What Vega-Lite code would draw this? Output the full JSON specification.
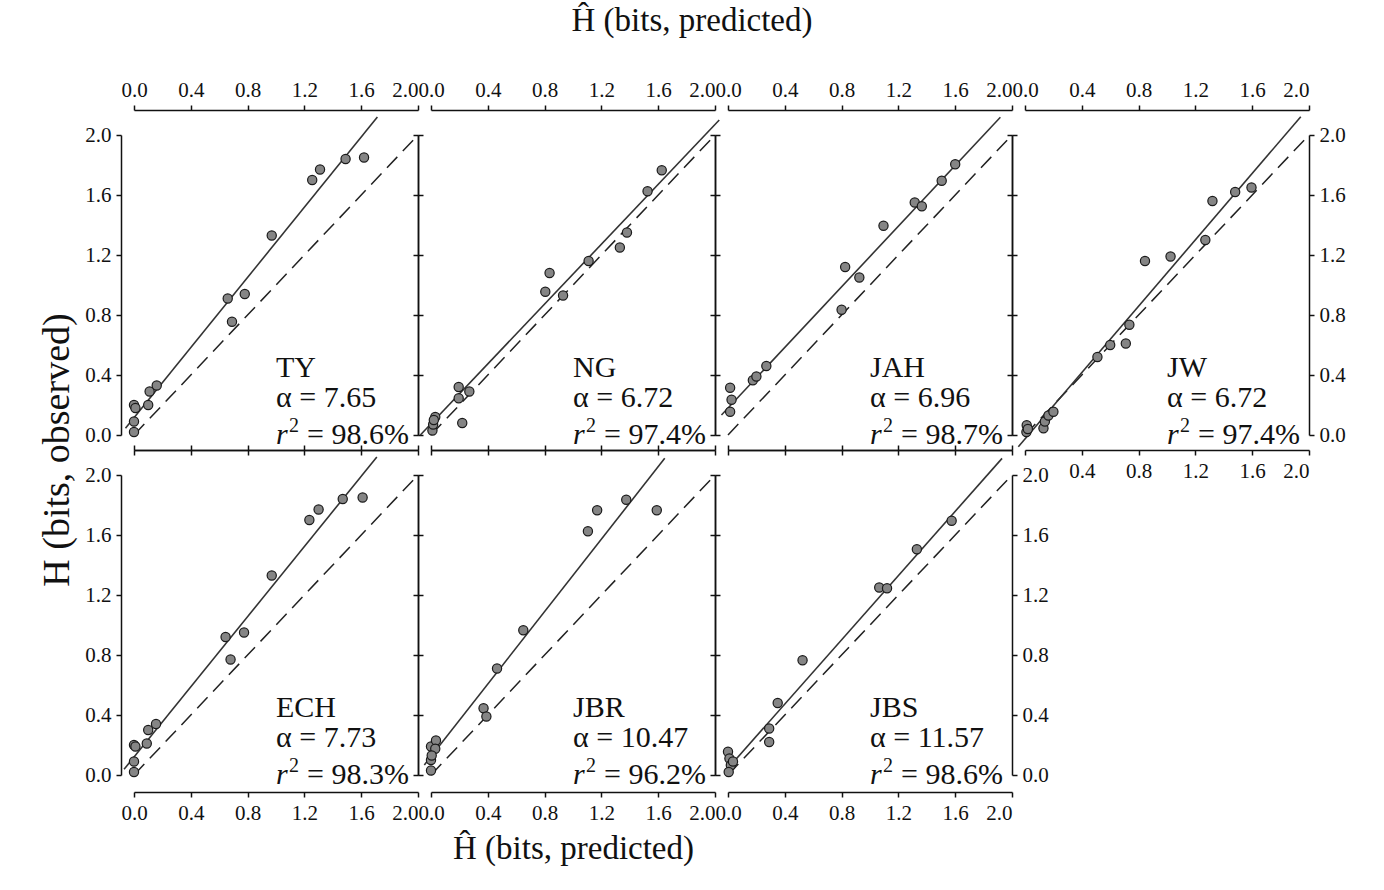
{
  "$schema": "https://vega.github.io/schema/vega-lite/v6.json",
  "padding": {"left": 38, "top": 5, "right": 5, "bottom": 5},
  "title": {"text": "Ĥ (bits, predicted)", "anchor": "middle", "offset": 41, "fontSize": 33},
  "config": {
    "view": {"stroke": null},
    "font": "Liberation Serif",
    "axis": {"domainColor": "#111", "domainWidth": 1.5, "tickColor": "#111", "tickWidth": 1.5, "tickSize": 5, "labelFont": "Liberation Serif", "labelFontSize": 21, "labelColor": "#111", "grid": false, "labelFlush": false, "labelOverlap": false, "labelPadding": 5, "titleFont": "Liberation Serif", "titleFontSize": 33, "titleFontWeight": "normal", "titleColor": "#111"},
    "title": {"font": "Liberation Serif", "fontSize": 33, "fontWeight": "normal", "color": "#111"}
  },
  "datasets": {
    "diag": [{"x": 0, "y": 0}, {"x": 2, "y": 2}],
    "fits": [
      {"p": "TY", "x": -0.06, "y": 0.045}, {"p": "TY", "x": 1.714, "y": 2.12},
      {"p": "NG", "x": -0.075, "y": 0.0}, {"p": "NG", "x": 2.03, "y": 2.1},
      {"p": "JAH", "x": -0.046, "y": 0.133}, {"p": "JAH", "x": 1.918, "y": 2.118},
      {"p": "JW", "x": -0.047, "y": -0.078}, {"p": "JW", "x": 1.942, "y": 2.122},
      {"p": "ECH", "x": -0.07, "y": 0.038}, {"p": "ECH", "x": 1.71, "y": 2.12},
      {"p": "JBR", "x": -0.047, "y": 0.067}, {"p": "JBR", "x": 1.646, "y": 2.111},
      {"p": "JBS", "x": -0.011, "y": 0.033}, {"p": "JBS", "x": 1.93, "y": 2.111}
    ],
    "pts": [
      {"p": "TY", "x": 0.0, "y": 0.02}, {"p": "TY", "x": 0.0, "y": 0.09}, {"p": "TY", "x": 0.0, "y": 0.2}, {"p": "TY", "x": 0.01, "y": 0.18}, {"p": "TY", "x": 0.1, "y": 0.2}, {"p": "TY", "x": 0.11, "y": 0.29}, {"p": "TY", "x": 0.16, "y": 0.33}, {"p": "TY", "x": 0.66, "y": 0.91}, {"p": "TY", "x": 0.69, "y": 0.755}, {"p": "TY", "x": 0.78, "y": 0.94}, {"p": "TY", "x": 0.97, "y": 1.33}, {"p": "TY", "x": 1.255, "y": 1.7}, {"p": "TY", "x": 1.31, "y": 1.77}, {"p": "TY", "x": 1.49, "y": 1.84}, {"p": "TY", "x": 1.62, "y": 1.85},
      {"p": "NG", "x": 0.01, "y": 0.03}, {"p": "NG", "x": 0.015, "y": 0.07}, {"p": "NG", "x": 0.03, "y": 0.12}, {"p": "NG", "x": 0.02, "y": 0.1}, {"p": "NG", "x": 0.195, "y": 0.32}, {"p": "NG", "x": 0.195, "y": 0.245}, {"p": "NG", "x": 0.27, "y": 0.29}, {"p": "NG", "x": 0.22, "y": 0.08}, {"p": "NG", "x": 0.805, "y": 0.955}, {"p": "NG", "x": 0.835, "y": 1.08}, {"p": "NG", "x": 0.93, "y": 0.93}, {"p": "NG", "x": 1.11, "y": 1.16}, {"p": "NG", "x": 1.33, "y": 1.25}, {"p": "NG", "x": 1.38, "y": 1.35}, {"p": "NG", "x": 1.525, "y": 1.625}, {"p": "NG", "x": 1.625, "y": 1.765},
      {"p": "JAH", "x": 0.015, "y": 0.315}, {"p": "JAH", "x": 0.025, "y": 0.235}, {"p": "JAH", "x": 0.015, "y": 0.155}, {"p": "JAH", "x": 0.175, "y": 0.365}, {"p": "JAH", "x": 0.2, "y": 0.39}, {"p": "JAH", "x": 0.27, "y": 0.46}, {"p": "JAH", "x": 0.8, "y": 0.835}, {"p": "JAH", "x": 0.825, "y": 1.12}, {"p": "JAH", "x": 0.925, "y": 1.05}, {"p": "JAH", "x": 1.095, "y": 1.395}, {"p": "JAH", "x": 1.315, "y": 1.55}, {"p": "JAH", "x": 1.365, "y": 1.525}, {"p": "JAH", "x": 1.505, "y": 1.695}, {"p": "JAH", "x": 1.6, "y": 1.805},
      {"p": "JW", "x": 0.01, "y": 0.02}, {"p": "JW", "x": 0.012, "y": 0.065}, {"p": "JW", "x": 0.02, "y": 0.04}, {"p": "JW", "x": 0.13, "y": 0.045}, {"p": "JW", "x": 0.14, "y": 0.09}, {"p": "JW", "x": 0.165, "y": 0.13}, {"p": "JW", "x": 0.2, "y": 0.155}, {"p": "JW", "x": 0.51, "y": 0.52}, {"p": "JW", "x": 0.6, "y": 0.6}, {"p": "JW", "x": 0.71, "y": 0.61}, {"p": "JW", "x": 0.735, "y": 0.735}, {"p": "JW", "x": 0.845, "y": 1.16}, {"p": "JW", "x": 1.025, "y": 1.19}, {"p": "JW", "x": 1.27, "y": 1.3}, {"p": "JW", "x": 1.32, "y": 1.56}, {"p": "JW", "x": 1.48, "y": 1.62}, {"p": "JW", "x": 1.595, "y": 1.65},
      {"p": "ECH", "x": 0.0, "y": 0.02}, {"p": "ECH", "x": 0.0, "y": 0.09}, {"p": "ECH", "x": 0.0, "y": 0.2}, {"p": "ECH", "x": 0.01, "y": 0.19}, {"p": "ECH", "x": 0.09, "y": 0.21}, {"p": "ECH", "x": 0.1, "y": 0.3}, {"p": "ECH", "x": 0.155, "y": 0.34}, {"p": "ECH", "x": 0.645, "y": 0.92}, {"p": "ECH", "x": 0.68, "y": 0.77}, {"p": "ECH", "x": 0.775, "y": 0.95}, {"p": "ECH", "x": 0.97, "y": 1.33}, {"p": "ECH", "x": 1.235, "y": 1.7}, {"p": "ECH", "x": 1.3, "y": 1.77}, {"p": "ECH", "x": 1.47, "y": 1.84}, {"p": "ECH", "x": 1.61, "y": 1.85},
      {"p": "JBR", "x": 0.0, "y": 0.03}, {"p": "JBR", "x": 0.0, "y": 0.1}, {"p": "JBR", "x": 0.0, "y": 0.19}, {"p": "JBR", "x": 0.035, "y": 0.23}, {"p": "JBR", "x": 0.03, "y": 0.175}, {"p": "JBR", "x": 0.005, "y": 0.13}, {"p": "JBR", "x": 0.37, "y": 0.445}, {"p": "JBR", "x": 0.39, "y": 0.39}, {"p": "JBR", "x": 0.465, "y": 0.71}, {"p": "JBR", "x": 0.65, "y": 0.965}, {"p": "JBR", "x": 1.105, "y": 1.625}, {"p": "JBR", "x": 1.17, "y": 1.765}, {"p": "JBR", "x": 1.375, "y": 1.835}, {"p": "JBR", "x": 1.59, "y": 1.765},
      {"p": "JBS", "x": 0.0, "y": 0.155}, {"p": "JBS", "x": 0.01, "y": 0.11}, {"p": "JBS", "x": 0.02, "y": 0.065}, {"p": "JBS", "x": 0.005, "y": 0.02}, {"p": "JBS", "x": 0.035, "y": 0.09}, {"p": "JBS", "x": 0.29, "y": 0.31}, {"p": "JBS", "x": 0.29, "y": 0.22}, {"p": "JBS", "x": 0.35, "y": 0.48}, {"p": "JBS", "x": 0.525, "y": 0.765}, {"p": "JBS", "x": 1.065, "y": 1.25}, {"p": "JBS", "x": 1.12, "y": 1.245}, {"p": "JBS", "x": 1.33, "y": 1.505}, {"p": "JBS", "x": 1.575, "y": 1.695}
    ],
    "info": [
      {"p": "TY", "name": "TY", "alpha": "α = 7.65", "r2": "= 98.6%"},
      {"p": "NG", "name": "NG", "alpha": "α = 6.72", "r2": "= 97.4%"},
      {"p": "JAH", "name": "JAH", "alpha": "α = 6.96", "r2": "= 98.7%"},
      {"p": "JW", "name": "JW", "alpha": "α = 6.72", "r2": "= 97.4%"},
      {"p": "ECH", "name": "ECH", "alpha": "α = 7.73", "r2": "= 98.3%"},
      {"p": "JBR", "name": "JBR", "alpha": "α = 10.47", "r2": "= 96.2%"},
      {"p": "JBS", "name": "JBS", "alpha": "α = 11.57", "r2": "= 98.6%"}
    ]
  },
  "vconcat": [
    {
      "title": {"text": "H (bits, observed)", "orient": "left", "anchor": "middle", "offset": 8, "fontSize": 38, "dx": 22},
      "columns": 4,
      "bounds": "flush",
      "spacing": {"row": 40, "column": 13},
      "concat": [
        {
          "width": 284, "height": 300,
          "resolve": {"axis": {"x": "independent", "y": "independent"}},
          "layer": [
            {"data": {"name": "diag"}, "mark": {"type": "line", "color": "#222", "strokeWidth": 1.5, "strokeDash": [15, 8], "clip": false},
             "encoding": {
               "x": {"field": "x", "type": "quantitative", "scale": {"domain": [0, 2]}, "axis": {"orient": "top", "offset": 25, "values": [0, 0.4, 0.8, 1.2, 1.6, 2], "format": ".1f", "title": null, "labelAlign": {"condition": {"test": "datum.value >= 1.99", "value": "right"}, "value": "center"}}},
               "y": {"field": "y", "type": "quantitative", "scale": {"domain": [0, 2]}, "axis": {"orient": "left", "offset": 13, "values": [0, 0.4, 0.8, 1.2, 1.6, 2], "format": ".1f", "title": null}}}},
            {"data": {"name": "fits"}, "transform": [{"filter": "datum.p === 'TY'"}], "mark": {"type": "line", "color": "#333", "strokeWidth": 1.6, "clip": false},
             "encoding": {
               "x": {"field": "x", "type": "quantitative", "scale": {"domain": [0, 2]}, "axis": {"orient": "bottom", "offset": 15, "values": [0, 0.4, 0.8, 1.2, 1.6, 2], "labels": false, "title": null}},
               "y": {"field": "y", "type": "quantitative", "scale": {"domain": [0, 2]}, "axis": {"orient": "right", "offset": 0, "values": [0, 0.4, 0.8, 1.2, 1.6, 2], "labels": false, "title": null}}}},
            {"data": {"name": "pts"}, "transform": [{"filter": "datum.p === 'TY'"}], "mark": {"type": "point", "filled": true, "size": 85, "fill": "#858585", "stroke": "#1a1a1a", "strokeWidth": 1.2, "opacity": 1, "clip": false},
             "encoding": {"x": {"field": "x", "type": "quantitative", "scale": {"domain": [0, 2]}, "axis": null}, "y": {"field": "y", "type": "quantitative", "scale": {"domain": [0, 2]}, "axis": null}}},
            {"data": {"name": "info"}, "transform": [{"filter": "datum.p === 'TY'"}], "mark": {"type": "text", "fontSize": 30, "align": "left", "baseline": "alphabetic", "color": "#111"},
             "encoding": {"x": {"datum": 1, "type": "quantitative", "scale": {"domain": [0, 2]}, "axis": null}, "y": {"datum": 0.385, "type": "quantitative", "scale": {"domain": [0, 2]}, "axis": null}, "text": {"field": "name"}}},
            {"data": {"name": "info"}, "transform": [{"filter": "datum.p === 'TY'"}], "mark": {"type": "text", "fontSize": 30, "align": "left", "baseline": "alphabetic", "color": "#111"},
             "encoding": {"x": {"datum": 1, "type": "quantitative", "scale": {"domain": [0, 2]}, "axis": null}, "y": {"datum": 0.185, "type": "quantitative", "scale": {"domain": [0, 2]}, "axis": null}, "text": {"field": "alpha"}}},
            {"data": {"name": "info"}, "transform": [{"filter": "datum.p === 'TY'"}], "mark": {"type": "text", "fontSize": 30, "fontStyle": "italic", "align": "left", "baseline": "alphabetic", "color": "#111"},
             "encoding": {"x": {"datum": 1, "type": "quantitative", "scale": {"domain": [0, 2]}, "axis": null}, "y": {"datum": -0.06, "type": "quantitative", "scale": {"domain": [0, 2]}, "axis": null}, "text": {"value": "r"}}},
            {"data": {"name": "info"}, "transform": [{"filter": "datum.p === 'TY'"}], "mark": {"type": "text", "fontSize": 20, "align": "left", "baseline": "alphabetic", "dx": 13, "dy": -12, "color": "#111"},
             "encoding": {"x": {"datum": 1, "type": "quantitative", "scale": {"domain": [0, 2]}, "axis": null}, "y": {"datum": -0.06, "type": "quantitative", "scale": {"domain": [0, 2]}, "axis": null}, "text": {"value": "2"}}},
            {"data": {"name": "info"}, "transform": [{"filter": "datum.p === 'TY'"}], "mark": {"type": "text", "fontSize": 30, "align": "left", "baseline": "alphabetic", "dx": 31, "color": "#111"},
             "encoding": {"x": {"datum": 1, "type": "quantitative", "scale": {"domain": [0, 2]}, "axis": null}, "y": {"datum": -0.06, "type": "quantitative", "scale": {"domain": [0, 2]}, "axis": null}, "text": {"field": "r2"}}}
          ]
        },
        {
          "width": 284, "height": 300,
          "resolve": {"axis": {"x": "independent", "y": "independent"}},
          "layer": [
            {"data": {"name": "diag"}, "mark": {"type": "line", "color": "#222", "strokeWidth": 1.5, "strokeDash": [15, 8], "clip": false},
             "encoding": {
               "x": {"field": "x", "type": "quantitative", "scale": {"domain": [0, 2]}, "axis": {"orient": "top", "offset": 25, "values": [0, 0.4, 0.8, 1.2, 1.6, 2], "format": ".1f", "title": null, "labelAlign": {"condition": {"test": "datum.value >= 1.99", "value": "right"}, "value": "center"}}},
               "y": {"field": "y", "type": "quantitative", "scale": {"domain": [0, 2]}, "axis": {"orient": "left", "offset": 13, "values": [0, 0.4, 0.8, 1.2, 1.6, 2], "labels": false, "title": null}}}},
            {"data": {"name": "fits"}, "transform": [{"filter": "datum.p === 'NG'"}], "mark": {"type": "line", "color": "#333", "strokeWidth": 1.6, "clip": false},
             "encoding": {
               "x": {"field": "x", "type": "quantitative", "scale": {"domain": [0, 2]}, "axis": {"orient": "bottom", "offset": 15, "values": [0, 0.4, 0.8, 1.2, 1.6, 2], "labels": false, "title": null}},
               "y": {"field": "y", "type": "quantitative", "scale": {"domain": [0, 2]}, "axis": {"orient": "right", "offset": 0, "values": [0, 0.4, 0.8, 1.2, 1.6, 2], "labels": false, "title": null}}}},
            {"data": {"name": "pts"}, "transform": [{"filter": "datum.p === 'NG'"}], "mark": {"type": "point", "filled": true, "size": 85, "fill": "#858585", "stroke": "#1a1a1a", "strokeWidth": 1.2, "opacity": 1, "clip": false},
             "encoding": {"x": {"field": "x", "type": "quantitative", "scale": {"domain": [0, 2]}, "axis": null}, "y": {"field": "y", "type": "quantitative", "scale": {"domain": [0, 2]}, "axis": null}}},
            {"data": {"name": "info"}, "transform": [{"filter": "datum.p === 'NG'"}], "mark": {"type": "text", "fontSize": 30, "align": "left", "baseline": "alphabetic", "color": "#111"},
             "encoding": {"x": {"datum": 1, "type": "quantitative", "scale": {"domain": [0, 2]}, "axis": null}, "y": {"datum": 0.385, "type": "quantitative", "scale": {"domain": [0, 2]}, "axis": null}, "text": {"field": "name"}}},
            {"data": {"name": "info"}, "transform": [{"filter": "datum.p === 'NG'"}], "mark": {"type": "text", "fontSize": 30, "align": "left", "baseline": "alphabetic", "color": "#111"},
             "encoding": {"x": {"datum": 1, "type": "quantitative", "scale": {"domain": [0, 2]}, "axis": null}, "y": {"datum": 0.185, "type": "quantitative", "scale": {"domain": [0, 2]}, "axis": null}, "text": {"field": "alpha"}}},
            {"data": {"name": "info"}, "transform": [{"filter": "datum.p === 'NG'"}], "mark": {"type": "text", "fontSize": 30, "fontStyle": "italic", "align": "left", "baseline": "alphabetic", "color": "#111"},
             "encoding": {"x": {"datum": 1, "type": "quantitative", "scale": {"domain": [0, 2]}, "axis": null}, "y": {"datum": -0.06, "type": "quantitative", "scale": {"domain": [0, 2]}, "axis": null}, "text": {"value": "r"}}},
            {"data": {"name": "info"}, "transform": [{"filter": "datum.p === 'NG'"}], "mark": {"type": "text", "fontSize": 20, "align": "left", "baseline": "alphabetic", "dx": 13, "dy": -12, "color": "#111"},
             "encoding": {"x": {"datum": 1, "type": "quantitative", "scale": {"domain": [0, 2]}, "axis": null}, "y": {"datum": -0.06, "type": "quantitative", "scale": {"domain": [0, 2]}, "axis": null}, "text": {"value": "2"}}},
            {"data": {"name": "info"}, "transform": [{"filter": "datum.p === 'NG'"}], "mark": {"type": "text", "fontSize": 30, "align": "left", "baseline": "alphabetic", "dx": 31, "color": "#111"},
             "encoding": {"x": {"datum": 1, "type": "quantitative", "scale": {"domain": [0, 2]}, "axis": null}, "y": {"datum": -0.06, "type": "quantitative", "scale": {"domain": [0, 2]}, "axis": null}, "text": {"field": "r2"}}}
          ]
        },
        {
          "width": 284, "height": 300,
          "resolve": {"axis": {"x": "independent", "y": "independent"}},
          "layer": [
            {"data": {"name": "diag"}, "mark": {"type": "line", "color": "#222", "strokeWidth": 1.5, "strokeDash": [15, 8], "clip": false},
             "encoding": {
               "x": {"field": "x", "type": "quantitative", "scale": {"domain": [0, 2]}, "axis": {"orient": "top", "offset": 25, "values": [0, 0.4, 0.8, 1.2, 1.6, 2], "format": ".1f", "title": null, "labelAlign": {"condition": {"test": "datum.value >= 1.99", "value": "right"}, "value": "center"}}},
               "y": {"field": "y", "type": "quantitative", "scale": {"domain": [0, 2]}, "axis": {"orient": "left", "offset": 13, "values": [0, 0.4, 0.8, 1.2, 1.6, 2], "labels": false, "title": null}}}},
            {"data": {"name": "fits"}, "transform": [{"filter": "datum.p === 'JAH'"}], "mark": {"type": "line", "color": "#333", "strokeWidth": 1.6, "clip": false},
             "encoding": {
               "x": {"field": "x", "type": "quantitative", "scale": {"domain": [0, 2]}, "axis": {"orient": "bottom", "offset": 15, "values": [0, 0.4, 0.8, 1.2, 1.6, 2], "labels": false, "title": null}},
               "y": {"field": "y", "type": "quantitative", "scale": {"domain": [0, 2]}, "axis": {"orient": "right", "offset": 0, "values": [0, 0.4, 0.8, 1.2, 1.6, 2], "labels": false, "title": null}}}},
            {"data": {"name": "pts"}, "transform": [{"filter": "datum.p === 'JAH'"}], "mark": {"type": "point", "filled": true, "size": 85, "fill": "#858585", "stroke": "#1a1a1a", "strokeWidth": 1.2, "opacity": 1, "clip": false},
             "encoding": {"x": {"field": "x", "type": "quantitative", "scale": {"domain": [0, 2]}, "axis": null}, "y": {"field": "y", "type": "quantitative", "scale": {"domain": [0, 2]}, "axis": null}}},
            {"data": {"name": "info"}, "transform": [{"filter": "datum.p === 'JAH'"}], "mark": {"type": "text", "fontSize": 30, "align": "left", "baseline": "alphabetic", "color": "#111"},
             "encoding": {"x": {"datum": 1, "type": "quantitative", "scale": {"domain": [0, 2]}, "axis": null}, "y": {"datum": 0.385, "type": "quantitative", "scale": {"domain": [0, 2]}, "axis": null}, "text": {"field": "name"}}},
            {"data": {"name": "info"}, "transform": [{"filter": "datum.p === 'JAH'"}], "mark": {"type": "text", "fontSize": 30, "align": "left", "baseline": "alphabetic", "color": "#111"},
             "encoding": {"x": {"datum": 1, "type": "quantitative", "scale": {"domain": [0, 2]}, "axis": null}, "y": {"datum": 0.185, "type": "quantitative", "scale": {"domain": [0, 2]}, "axis": null}, "text": {"field": "alpha"}}},
            {"data": {"name": "info"}, "transform": [{"filter": "datum.p === 'JAH'"}], "mark": {"type": "text", "fontSize": 30, "fontStyle": "italic", "align": "left", "baseline": "alphabetic", "color": "#111"},
             "encoding": {"x": {"datum": 1, "type": "quantitative", "scale": {"domain": [0, 2]}, "axis": null}, "y": {"datum": -0.06, "type": "quantitative", "scale": {"domain": [0, 2]}, "axis": null}, "text": {"value": "r"}}},
            {"data": {"name": "info"}, "transform": [{"filter": "datum.p === 'JAH'"}], "mark": {"type": "text", "fontSize": 20, "align": "left", "baseline": "alphabetic", "dx": 13, "dy": -12, "color": "#111"},
             "encoding": {"x": {"datum": 1, "type": "quantitative", "scale": {"domain": [0, 2]}, "axis": null}, "y": {"datum": -0.06, "type": "quantitative", "scale": {"domain": [0, 2]}, "axis": null}, "text": {"value": "2"}}},
            {"data": {"name": "info"}, "transform": [{"filter": "datum.p === 'JAH'"}], "mark": {"type": "text", "fontSize": 30, "align": "left", "baseline": "alphabetic", "dx": 31, "color": "#111"},
             "encoding": {"x": {"datum": 1, "type": "quantitative", "scale": {"domain": [0, 2]}, "axis": null}, "y": {"datum": -0.06, "type": "quantitative", "scale": {"domain": [0, 2]}, "axis": null}, "text": {"field": "r2"}}}
          ]
        },
        {
          "width": 284, "height": 300,
          "resolve": {"axis": {"x": "independent", "y": "independent"}},
          "layer": [
            {"data": {"name": "diag"}, "mark": {"type": "line", "color": "#222", "strokeWidth": 1.5, "strokeDash": [15, 8], "clip": false},
             "encoding": {
               "x": {"field": "x", "type": "quantitative", "scale": {"domain": [0, 2]}, "axis": {"orient": "top", "offset": 25, "values": [0, 0.4, 0.8, 1.2, 1.6, 2], "format": ".1f", "title": null, "labelAlign": {"condition": {"test": "datum.value >= 1.99", "value": "right"}, "value": "center"}}},
               "y": {"field": "y", "type": "quantitative", "scale": {"domain": [0, 2]}, "axis": {"orient": "left", "offset": 13, "values": [0, 0.4, 0.8, 1.2, 1.6, 2], "labels": false, "title": null}}}},
            {"data": {"name": "fits"}, "transform": [{"filter": "datum.p === 'JW'"}], "mark": {"type": "line", "color": "#333", "strokeWidth": 1.6, "clip": false},
             "encoding": {
               "x": {"field": "x", "type": "quantitative", "scale": {"domain": [0, 2]}, "axis": {"orient": "bottom", "offset": 15, "values": [0, 0.4, 0.8, 1.2, 1.6, 2], "format": ".1f", "labelExpr": "datum.value === 0 ? '' : datum.label", "title": null, "labelAlign": {"condition": {"test": "datum.value >= 1.99", "value": "right"}, "value": "center"}}},
               "y": {"field": "y", "type": "quantitative", "scale": {"domain": [0, 2]}, "axis": {"orient": "right", "offset": 0, "values": [0, 0.4, 0.8, 1.2, 1.6, 2], "format": ".1f", "title": null}}}},
            {"data": {"name": "pts"}, "transform": [{"filter": "datum.p === 'JW'"}], "mark": {"type": "point", "filled": true, "size": 85, "fill": "#858585", "stroke": "#1a1a1a", "strokeWidth": 1.2, "opacity": 1, "clip": false},
             "encoding": {"x": {"field": "x", "type": "quantitative", "scale": {"domain": [0, 2]}, "axis": null}, "y": {"field": "y", "type": "quantitative", "scale": {"domain": [0, 2]}, "axis": null}}},
            {"data": {"name": "info"}, "transform": [{"filter": "datum.p === 'JW'"}], "mark": {"type": "text", "fontSize": 30, "align": "left", "baseline": "alphabetic", "color": "#111"},
             "encoding": {"x": {"datum": 1, "type": "quantitative", "scale": {"domain": [0, 2]}, "axis": null}, "y": {"datum": 0.385, "type": "quantitative", "scale": {"domain": [0, 2]}, "axis": null}, "text": {"field": "name"}}},
            {"data": {"name": "info"}, "transform": [{"filter": "datum.p === 'JW'"}], "mark": {"type": "text", "fontSize": 30, "align": "left", "baseline": "alphabetic", "color": "#111"},
             "encoding": {"x": {"datum": 1, "type": "quantitative", "scale": {"domain": [0, 2]}, "axis": null}, "y": {"datum": 0.185, "type": "quantitative", "scale": {"domain": [0, 2]}, "axis": null}, "text": {"field": "alpha"}}},
            {"data": {"name": "info"}, "transform": [{"filter": "datum.p === 'JW'"}], "mark": {"type": "text", "fontSize": 30, "fontStyle": "italic", "align": "left", "baseline": "alphabetic", "color": "#111"},
             "encoding": {"x": {"datum": 1, "type": "quantitative", "scale": {"domain": [0, 2]}, "axis": null}, "y": {"datum": -0.06, "type": "quantitative", "scale": {"domain": [0, 2]}, "axis": null}, "text": {"value": "r"}}},
            {"data": {"name": "info"}, "transform": [{"filter": "datum.p === 'JW'"}], "mark": {"type": "text", "fontSize": 20, "align": "left", "baseline": "alphabetic", "dx": 13, "dy": -12, "color": "#111"},
             "encoding": {"x": {"datum": 1, "type": "quantitative", "scale": {"domain": [0, 2]}, "axis": null}, "y": {"datum": -0.06, "type": "quantitative", "scale": {"domain": [0, 2]}, "axis": null}, "text": {"value": "2"}}},
            {"data": {"name": "info"}, "transform": [{"filter": "datum.p === 'JW'"}], "mark": {"type": "text", "fontSize": 30, "align": "left", "baseline": "alphabetic", "dx": 31, "color": "#111"},
             "encoding": {"x": {"datum": 1, "type": "quantitative", "scale": {"domain": [0, 2]}, "axis": null}, "y": {"datum": -0.06, "type": "quantitative", "scale": {"domain": [0, 2]}, "axis": null}, "text": {"field": "r2"}}}
          ]
        },
        {
          "width": 284, "height": 300,
          "resolve": {"axis": {"x": "independent", "y": "independent"}},
          "layer": [
            {"data": {"name": "diag"}, "mark": {"type": "line", "color": "#222", "strokeWidth": 1.5, "strokeDash": [15, 8], "clip": false},
             "encoding": {
               "x": {"field": "x", "type": "quantitative", "scale": {"domain": [0, 2]}, "axis": {"orient": "bottom", "offset": 17, "values": [0, 0.4, 0.8, 1.2, 1.6, 2], "format": ".1f", "title": null, "labelAlign": {"condition": {"test": "datum.value >= 1.99", "value": "right"}, "value": "center"}}},
               "y": {"field": "y", "type": "quantitative", "scale": {"domain": [0, 2]}, "axis": {"orient": "left", "offset": 13, "values": [0, 0.4, 0.8, 1.2, 1.6, 2], "format": ".1f", "title": null}}}},
            {"data": {"name": "fits"}, "transform": [{"filter": "datum.p === 'ECH'"}], "mark": {"type": "line", "color": "#333", "strokeWidth": 1.6, "clip": false},
             "encoding": {
               "x": {"field": "x", "type": "quantitative", "scale": {"domain": [0, 2]}, "axis": {"orient": "top", "offset": 25, "values": [0, 0.4, 0.8, 1.2, 1.6, 2], "labels": false, "title": null}},
               "y": {"field": "y", "type": "quantitative", "scale": {"domain": [0, 2]}, "axis": {"orient": "right", "offset": 0, "values": [0, 0.4, 0.8, 1.2, 1.6, 2], "labels": false, "title": null}}}},
            {"data": {"name": "pts"}, "transform": [{"filter": "datum.p === 'ECH'"}], "mark": {"type": "point", "filled": true, "size": 85, "fill": "#858585", "stroke": "#1a1a1a", "strokeWidth": 1.2, "opacity": 1, "clip": false},
             "encoding": {"x": {"field": "x", "type": "quantitative", "scale": {"domain": [0, 2]}, "axis": null}, "y": {"field": "y", "type": "quantitative", "scale": {"domain": [0, 2]}, "axis": null}}},
            {"data": {"name": "info"}, "transform": [{"filter": "datum.p === 'ECH'"}], "mark": {"type": "text", "fontSize": 30, "align": "left", "baseline": "alphabetic", "color": "#111"},
             "encoding": {"x": {"datum": 1, "type": "quantitative", "scale": {"domain": [0, 2]}, "axis": null}, "y": {"datum": 0.385, "type": "quantitative", "scale": {"domain": [0, 2]}, "axis": null}, "text": {"field": "name"}}},
            {"data": {"name": "info"}, "transform": [{"filter": "datum.p === 'ECH'"}], "mark": {"type": "text", "fontSize": 30, "align": "left", "baseline": "alphabetic", "color": "#111"},
             "encoding": {"x": {"datum": 1, "type": "quantitative", "scale": {"domain": [0, 2]}, "axis": null}, "y": {"datum": 0.185, "type": "quantitative", "scale": {"domain": [0, 2]}, "axis": null}, "text": {"field": "alpha"}}},
            {"data": {"name": "info"}, "transform": [{"filter": "datum.p === 'ECH'"}], "mark": {"type": "text", "fontSize": 30, "fontStyle": "italic", "align": "left", "baseline": "alphabetic", "color": "#111"},
             "encoding": {"x": {"datum": 1, "type": "quantitative", "scale": {"domain": [0, 2]}, "axis": null}, "y": {"datum": -0.06, "type": "quantitative", "scale": {"domain": [0, 2]}, "axis": null}, "text": {"value": "r"}}},
            {"data": {"name": "info"}, "transform": [{"filter": "datum.p === 'ECH'"}], "mark": {"type": "text", "fontSize": 20, "align": "left", "baseline": "alphabetic", "dx": 13, "dy": -12, "color": "#111"},
             "encoding": {"x": {"datum": 1, "type": "quantitative", "scale": {"domain": [0, 2]}, "axis": null}, "y": {"datum": -0.06, "type": "quantitative", "scale": {"domain": [0, 2]}, "axis": null}, "text": {"value": "2"}}},
            {"data": {"name": "info"}, "transform": [{"filter": "datum.p === 'ECH'"}], "mark": {"type": "text", "fontSize": 30, "align": "left", "baseline": "alphabetic", "dx": 31, "color": "#111"},
             "encoding": {"x": {"datum": 1, "type": "quantitative", "scale": {"domain": [0, 2]}, "axis": null}, "y": {"datum": -0.06, "type": "quantitative", "scale": {"domain": [0, 2]}, "axis": null}, "text": {"field": "r2"}}}
          ]
        },
        {
          "width": 284, "height": 300,
          "resolve": {"axis": {"x": "independent", "y": "independent"}},
          "layer": [
            {"data": {"name": "diag"}, "mark": {"type": "line", "color": "#222", "strokeWidth": 1.5, "strokeDash": [15, 8], "clip": false},
             "encoding": {
               "x": {"field": "x", "type": "quantitative", "scale": {"domain": [0, 2]}, "axis": {"orient": "bottom", "offset": 17, "values": [0, 0.4, 0.8, 1.2, 1.6, 2], "format": ".1f", "title": "Ĥ (bits, predicted)", "titlePadding": 9, "labelAlign": {"condition": {"test": "datum.value >= 1.99", "value": "right"}, "value": "center"}}},
               "y": {"field": "y", "type": "quantitative", "scale": {"domain": [0, 2]}, "axis": {"orient": "left", "offset": 13, "values": [0, 0.4, 0.8, 1.2, 1.6, 2], "labels": false, "title": null}}}},
            {"data": {"name": "fits"}, "transform": [{"filter": "datum.p === 'JBR'"}], "mark": {"type": "line", "color": "#333", "strokeWidth": 1.6, "clip": false},
             "encoding": {
               "x": {"field": "x", "type": "quantitative", "scale": {"domain": [0, 2]}, "axis": {"orient": "top", "offset": 25, "values": [0, 0.4, 0.8, 1.2, 1.6, 2], "labels": false, "title": null}},
               "y": {"field": "y", "type": "quantitative", "scale": {"domain": [0, 2]}, "axis": {"orient": "right", "offset": 0, "values": [0, 0.4, 0.8, 1.2, 1.6, 2], "labels": false, "title": null}}}},
            {"data": {"name": "pts"}, "transform": [{"filter": "datum.p === 'JBR'"}], "mark": {"type": "point", "filled": true, "size": 85, "fill": "#858585", "stroke": "#1a1a1a", "strokeWidth": 1.2, "opacity": 1, "clip": false},
             "encoding": {"x": {"field": "x", "type": "quantitative", "scale": {"domain": [0, 2]}, "axis": null}, "y": {"field": "y", "type": "quantitative", "scale": {"domain": [0, 2]}, "axis": null}}},
            {"data": {"name": "info"}, "transform": [{"filter": "datum.p === 'JBR'"}], "mark": {"type": "text", "fontSize": 30, "align": "left", "baseline": "alphabetic", "color": "#111"},
             "encoding": {"x": {"datum": 1, "type": "quantitative", "scale": {"domain": [0, 2]}, "axis": null}, "y": {"datum": 0.385, "type": "quantitative", "scale": {"domain": [0, 2]}, "axis": null}, "text": {"field": "name"}}},
            {"data": {"name": "info"}, "transform": [{"filter": "datum.p === 'JBR'"}], "mark": {"type": "text", "fontSize": 30, "align": "left", "baseline": "alphabetic", "color": "#111"},
             "encoding": {"x": {"datum": 1, "type": "quantitative", "scale": {"domain": [0, 2]}, "axis": null}, "y": {"datum": 0.185, "type": "quantitative", "scale": {"domain": [0, 2]}, "axis": null}, "text": {"field": "alpha"}}},
            {"data": {"name": "info"}, "transform": [{"filter": "datum.p === 'JBR'"}], "mark": {"type": "text", "fontSize": 30, "fontStyle": "italic", "align": "left", "baseline": "alphabetic", "color": "#111"},
             "encoding": {"x": {"datum": 1, "type": "quantitative", "scale": {"domain": [0, 2]}, "axis": null}, "y": {"datum": -0.06, "type": "quantitative", "scale": {"domain": [0, 2]}, "axis": null}, "text": {"value": "r"}}},
            {"data": {"name": "info"}, "transform": [{"filter": "datum.p === 'JBR'"}], "mark": {"type": "text", "fontSize": 20, "align": "left", "baseline": "alphabetic", "dx": 13, "dy": -12, "color": "#111"},
             "encoding": {"x": {"datum": 1, "type": "quantitative", "scale": {"domain": [0, 2]}, "axis": null}, "y": {"datum": -0.06, "type": "quantitative", "scale": {"domain": [0, 2]}, "axis": null}, "text": {"value": "2"}}},
            {"data": {"name": "info"}, "transform": [{"filter": "datum.p === 'JBR'"}], "mark": {"type": "text", "fontSize": 30, "align": "left", "baseline": "alphabetic", "dx": 31, "color": "#111"},
             "encoding": {"x": {"datum": 1, "type": "quantitative", "scale": {"domain": [0, 2]}, "axis": null}, "y": {"datum": -0.06, "type": "quantitative", "scale": {"domain": [0, 2]}, "axis": null}, "text": {"field": "r2"}}}
          ]
        },
        {
          "width": 284, "height": 300,
          "resolve": {"axis": {"x": "independent", "y": "independent"}},
          "layer": [
            {"data": {"name": "diag"}, "mark": {"type": "line", "color": "#222", "strokeWidth": 1.5, "strokeDash": [15, 8], "clip": false},
             "encoding": {
               "x": {"field": "x", "type": "quantitative", "scale": {"domain": [0, 2]}, "axis": {"orient": "bottom", "offset": 17, "values": [0, 0.4, 0.8, 1.2, 1.6, 2], "format": ".1f", "title": null, "labelAlign": {"condition": {"test": "datum.value >= 1.99", "value": "right"}, "value": "center"}}},
               "y": {"field": "y", "type": "quantitative", "scale": {"domain": [0, 2]}, "axis": {"orient": "left", "offset": 13, "values": [0, 0.4, 0.8, 1.2, 1.6, 2], "labels": false, "title": null}}}},
            {"data": {"name": "fits"}, "transform": [{"filter": "datum.p === 'JBS'"}], "mark": {"type": "line", "color": "#333", "strokeWidth": 1.6, "clip": false},
             "encoding": {
               "x": {"field": "x", "type": "quantitative", "scale": {"domain": [0, 2]}, "axis": {"orient": "top", "offset": 25, "values": [0, 0.4, 0.8, 1.2, 1.6, 2], "labels": false, "title": null}},
               "y": {"field": "y", "type": "quantitative", "scale": {"domain": [0, 2]}, "axis": {"orient": "right", "offset": 0, "values": [0, 0.4, 0.8, 1.2, 1.6, 2], "format": ".1f", "title": null}}}},
            {"data": {"name": "pts"}, "transform": [{"filter": "datum.p === 'JBS'"}], "mark": {"type": "point", "filled": true, "size": 85, "fill": "#858585", "stroke": "#1a1a1a", "strokeWidth": 1.2, "opacity": 1, "clip": false},
             "encoding": {"x": {"field": "x", "type": "quantitative", "scale": {"domain": [0, 2]}, "axis": null}, "y": {"field": "y", "type": "quantitative", "scale": {"domain": [0, 2]}, "axis": null}}},
            {"data": {"name": "info"}, "transform": [{"filter": "datum.p === 'JBS'"}], "mark": {"type": "text", "fontSize": 30, "align": "left", "baseline": "alphabetic", "color": "#111"},
             "encoding": {"x": {"datum": 1, "type": "quantitative", "scale": {"domain": [0, 2]}, "axis": null}, "y": {"datum": 0.385, "type": "quantitative", "scale": {"domain": [0, 2]}, "axis": null}, "text": {"field": "name"}}},
            {"data": {"name": "info"}, "transform": [{"filter": "datum.p === 'JBS'"}], "mark": {"type": "text", "fontSize": 30, "align": "left", "baseline": "alphabetic", "color": "#111"},
             "encoding": {"x": {"datum": 1, "type": "quantitative", "scale": {"domain": [0, 2]}, "axis": null}, "y": {"datum": 0.185, "type": "quantitative", "scale": {"domain": [0, 2]}, "axis": null}, "text": {"field": "alpha"}}},
            {"data": {"name": "info"}, "transform": [{"filter": "datum.p === 'JBS'"}], "mark": {"type": "text", "fontSize": 30, "fontStyle": "italic", "align": "left", "baseline": "alphabetic", "color": "#111"},
             "encoding": {"x": {"datum": 1, "type": "quantitative", "scale": {"domain": [0, 2]}, "axis": null}, "y": {"datum": -0.06, "type": "quantitative", "scale": {"domain": [0, 2]}, "axis": null}, "text": {"value": "r"}}},
            {"data": {"name": "info"}, "transform": [{"filter": "datum.p === 'JBS'"}], "mark": {"type": "text", "fontSize": 20, "align": "left", "baseline": "alphabetic", "dx": 13, "dy": -12, "color": "#111"},
             "encoding": {"x": {"datum": 1, "type": "quantitative", "scale": {"domain": [0, 2]}, "axis": null}, "y": {"datum": -0.06, "type": "quantitative", "scale": {"domain": [0, 2]}, "axis": null}, "text": {"value": "2"}}},
            {"data": {"name": "info"}, "transform": [{"filter": "datum.p === 'JBS'"}], "mark": {"type": "text", "fontSize": 30, "align": "left", "baseline": "alphabetic", "dx": 31, "color": "#111"},
             "encoding": {"x": {"datum": 1, "type": "quantitative", "scale": {"domain": [0, 2]}, "axis": null}, "y": {"datum": -0.06, "type": "quantitative", "scale": {"domain": [0, 2]}, "axis": null}, "text": {"field": "r2"}}}
          ]
        }
      ]
    }
  ]
}
